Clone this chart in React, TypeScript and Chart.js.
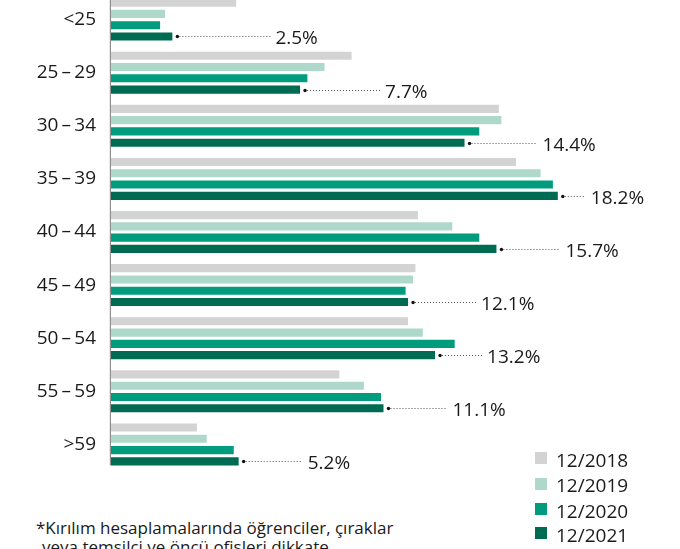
import React, { useEffect, useRef } from "react";
import { Chart, registerables } from "chart.js";

Chart.register(...registerables);

const categories = ["<25", "25\u2009–\u200929", "30\u2009–\u200934", "35\u2009–\u200939", "40\u2009–\u200944", "45\u2009–\u200949", "50\u2009–\u200954", "55\u2009–\u200959", ">59"];
const seriesNames = ["12/2018", "12/2019", "12/2020", "12/2021"];
const values2018 = [5.1, 9.8, 15.8, 16.5, 12.5, 12.4, 12.1, 9.3, 3.5];
const values2019 = [2.2, 8.7, 15.9, 17.5, 13.9, 12.3, 12.7, 10.3, 3.9];
const values2020 = [2.0, 8.0, 15.0, 18.0, 15.0, 12.0, 14.0, 11.0, 5.0];
const values2021 = [2.5, 7.7, 14.4, 18.2, 15.7, 12.1, 13.2, 11.1, 5.2];
const colors = ["#d3d3d3", "#aed9ca", "#009c7d", "#006b53"];
// horizontal distance (px) from the end of each 12/2021 bar to its value label
const labelGaps = [103, 85, 78, 33, 69, 73, 52, 69, 69];
const footnoteLines = ["*Kırılım hesaplamalarında öğrenciler, çıraklar", "veya temsilci ve öncü ofisleri dikkate"];

const FONT = "'Open Sans', 'Noto Sans', sans-serif";

const labelPlugin = {
  id: "valueLabels",
  afterDatasetsDraw(chart: any) {
    const ctx = chart.ctx;
    const area = chart.chartArea;
    const last = chart.getDatasetMeta(3);
    // axis line
    const lastEl = last.data[last.data.length - 1];
    const bottom = lastEl.y + lastEl.height / 2;
    ctx.save();
    ctx.fillStyle = "#8f8f8f";
    ctx.fillRect(area.left - 1.2, 0, 1.2, bottom);
    // value labels with dotted leaders
    last.data.forEach((el: any, i: number) => {
      const x = el.x;
      const y = Math.round(el.y) + 0.5;
      const dotX = x + 5;
      const textX = x + labelGaps[i];
      ctx.fillStyle = "#111";
      ctx.beginPath();
      ctx.arc(dotX, y, 1.7, 0, Math.PI * 2);
      ctx.fill();
      ctx.strokeStyle = "#555";
      ctx.lineWidth = 1;
      ctx.setLineDash([1, 2]);
      ctx.beginPath();
      ctx.moveTo(dotX + 2, y);
      ctx.lineTo(textX - 5, y);
      ctx.stroke();
      ctx.setLineDash([]);
      ctx.fillStyle = "#1a1a1a";
      ctx.font = `19px ${FONT}`;
      ctx.textAlign = "left";
      ctx.textBaseline = "alphabetic";
      ctx.fillText(values2021[i].toFixed(1) + "%", textX, y + 7.5);
    });
    ctx.restore();
  },
};

export default function App() {
  const ref = useRef<HTMLCanvasElement | null>(null);
  useEffect(() => {
    let chart: Chart | null = null;
    let cancelled = false;
    const make = () => {
      if (cancelled || !ref.current) return;
      const seriesValues = [values2018, values2019, values2020, values2021];
      chart = new Chart(ref.current, {
        type: "bar",
        data: {
          labels: categories,
          datasets: seriesNames.map((name, i) => ({
            label: name,
            data: seriesValues[i],
            backgroundColor: colors[i],
            borderWidth: 0,
            barPercentage: 0.72,
            categoryPercentage: 0.85,
          })),
        },
        options: {
          indexAxis: "y",
          responsive: false,
          animation: false,
          layout: { padding: { left: 0, right: 78, top: 0, bottom: 0 } },
          plugins: { legend: { display: false }, tooltip: { enabled: false } },
          scales: {
            x: { display: false, min: 0, max: 20 },
            y: {
              grid: { display: false, drawTicks: false },
              border: { display: false },
              ticks: { padding: 15, color: "#1a1a1a", font: { family: FONT, size: 19 } },
              afterFit(scale: any) {
                scale.width = 111;
                scale.paddingTop = 0;
                scale.paddingBottom = 0;
              },
            },
          },
        },
        plugins: [labelPlugin],
      });
    };
    const fonts: any = (document as any).fonts;
    if (fonts && fonts.load) {
      Promise.all([fonts.load(`19px 'Open Sans'`), fonts.load(`18px 'Open Sans'`)]).then(make, make);
    } else make();
    return () => {
      cancelled = true;
      if (chart) chart.destroy();
    };
  }, []);

  const legendTops = [445.5, 471, 496.5, 520.5];
  return (
    <div style={{ position: "fixed", left: 0, top: 0, width: 680, height: 549, overflow: "hidden", background: "#fff", fontFamily: FONT }}>
      <canvas ref={ref} width={680} height={478} style={{ position: "absolute", left: 0, top: -7, width: 680, height: 478 }} />
      {seriesNames.map((name, i) => (
        <div key={name} style={{ position: "absolute", left: 535, top: legendTops[i], height: 24, lineHeight: "24px", fontSize: 19, color: "#1a1a1a", whiteSpace: "nowrap" }}>
          <span style={{ display: "inline-block", width: 12, height: 12, background: colors[i], verticalAlign: "middle", marginRight: 9, position: "relative", top: -1 }} />
          <span style={{ verticalAlign: "middle" }}>{name}</span>
        </div>
      ))}
      <div style={{ position: "absolute", left: 36, top: 518, fontSize: 17, lineHeight: "19px", color: "#1a1a1a", whiteSpace: "nowrap" }}>
        <div>{footnoteLines[0]}</div>
        <div style={{ paddingLeft: 6 }}>{footnoteLines[1]}</div>
      </div>
    </div>
  );
}
